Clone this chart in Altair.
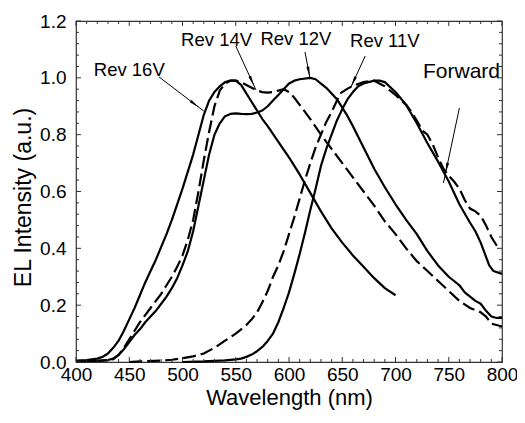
import math
import altair as alt
import pandas as pd

# ---------------- data ----------------
wl_16 = [400, 410, 420, 425, 430, 435, 440, 445, 450, 455, 460, 465, 470, 475, 480, 485, 490, 495,
         500, 505, 510, 515, 520, 525, 530, 535, 540, 545, 550, 555, 560, 565, 570, 575, 580, 590,
         600, 610, 620, 630, 640, 650, 660, 670, 680, 690, 700]
el_16 = [.005, .007, .012, .018, .03, .05, .075, .11, .15, .19, .235, .28, .32, .36, .405, .45, .5, .555,
         .61, .67, .73, .8, .87, .92, .95, .97, .985, .99, .99, .975, .945, .915, .885, .855, .83, .775,
         .72, .66, .595, .53, .47, .42, .375, .335, .295, .26, .235]

wl_14 = [400, 420, 430, 435, 440, 445, 450, 455, 460, 465, 470, 475, 480, 485, 490, 495, 500, 505,
         510, 515, 520, 525, 530, 535, 540, 545, 550, 555, 560, 565, 570, 575, 580, 585, 590, 595,
         600, 605, 610, 615, 620, 630, 640, 650, 660, 670, 680, 690, 700, 710, 720, 730, 740, 750,
         760, 770, 780, 785, 790, 800]
el_14 = [.003, .004, .006, .01, .025, .05, .08, .11, .14, .165, .19, .215, .24, .27, .3, .335, .375, .43,
         .5, .6, .71, .81, .9, .955, .98, .99, .99, .985, .975, .965, .955, .95, .948, .95, .955, .96,
         .95, .93, .905, .88, .855, .8, .75, .7, .65, .6, .55, .495, .45, .4, .355, .32, .285, .25,
         .215, .19, .175, .16, .135, .125]

wl_12 = [400, 420, 430, 435, 440, 445, 450, 455, 460, 465, 470, 475, 480, 485, 490, 495, 500, 505,
         510, 515, 520, 525, 530, 535, 540, 545, 550, 555, 560, 565, 570, 575, 580, 585, 590, 595,
         600, 605, 610, 620, 625, 630, 635, 640, 645, 650, 655, 660, 670, 680, 690, 700, 710, 720,
         730, 740, 750, 755, 760, 765, 770, 775, 780, 785, 790, 795, 800]
el_12 = [.003, .004, .007, .012, .025, .045, .07, .095, .115, .14, .16, .18, .205, .23, .26, .295, .34, .39,
         .46, .55, .64, .73, .8, .84, .865, .873, .875, .873, .872, .873, .878, .885, .9, .92, .94, .96,
         .98, .99, .995, 1.0, .995, .98, .965, .945, .925, .895, .865, .83, .755, .68, .615, .555, .5, .45,
         .39, .34, .3, .285, .27, .245, .23, .215, .205, .18, .16, .155, .155]

wl_11 = [450, 460, 480, 490, 500, 510, 520, 530, 540, 550, 560, 565, 570, 575, 580, 585, 590, 595,
         600, 605, 610, 615, 620, 625, 630, 635, 640, 645, 648, 655, 660, 670, 680, 690, 700, 710,
         715, 720, 725, 730, 735, 740, 745, 750, 755, 760, 765, 770, 775, 780, 785, 790, 795, 797]
el_11 = [.0, .002, .005, .008, .013, .02, .03, .05, .075, .1, .13, .15, .175, .21, .25, .3, .34, .39,
         .45, .51, .575, .64, .7, .755, .8, .845, .88, .92, .945, .962, .972, .985, .99, .97, .94, .905,
         .88, .85, .815, .8, .765, .72, .68, .655, .635, .61, .57, .54, .53, .515, .48, .44, .41, .40]

wl_fw = [500, 520, 540, 550, 555, 560, 565, 570, 575, 580, 585, 590, 595, 600, 605, 610, 615, 620,
         625, 630, 635, 640, 645, 650, 655, 660, 665, 670, 680, 685, 690, 700, 710, 720, 730, 740,
         750, 760, 770, 775, 780, 785, 788, 792, 800]
el_fw = [0.0, .002, .006, .009, .012, .018, .026, .038, .053, .074, .1, .14, .19, .245, .31, .38, .455, .535,
         .61, .69, .75, .8, .85, .89, .925, .95, .97, .98, .99, .99, .985, .95, .905, .84, .77, .705,
         .635, .555, .49, .46, .42, .37, .34, .32, .31]

labels = ["Rev 16V", "Rev 14V", "Rev 12V", "Rev 11V", "Forward"]
label_x = [450, 532, 606.5, 690, 762]
label_y = [1.029, 1.133, 1.138, 1.128, 1.02]
label_size = [18.5, 18.5, 18.5, 18.5, 21]
arrow_x1 = [478, 550, 615, 671.6, 760]
arrow_y1 = [1.003, 1.112, 1.091, 1.077, 0.894]
arrow_x2 = [520, 569, 619.5, 657.7, 745]
arrow_y2 = [0.883, 0.957, 1.003, 0.964, 0.63]

x_major = [400, 450, 500, 550, 600, 650, 700, 750, 800]
x_minor = [v for v in range(400, 801, 10) if v % 50 != 0]
y_major = [0.0, 0.2, 0.4, 0.6, 0.8, 1.0, 1.2]
y_minor = [round(i * 0.04, 2) for i in range(31) if i % 5 != 0]

W, H = 426, 341
FONT = "Liberation Sans"

# ---------------- frames ----------------
rows = []
for name, xs, ys, dashed in [("Rev 16V", wl_16, el_16, 0), ("Rev 14V", wl_14, el_14, 1),
                             ("Rev 12V", wl_12, el_12, 0), ("Rev 11V", wl_11, el_11, 1),
                             ("Forward", wl_fw, el_fw, 0)]:
    for i, (a, b) in enumerate(zip(xs, ys)):
        rows.append({"series": name, "wl": a, "el": b, "dashed": dashed, "i": i})
df = pd.DataFrame(rows)

ann = pd.DataFrame({"label": labels, "x": label_x, "y": label_y, "size": label_size})

xpx = W / 400.0
ypx = H / 1.2
arr_rows = []
for x1, y1, x2, y2 in zip(arrow_x1, arrow_y1, arrow_x2, arrow_y2):
    dx = (x2 - x1) * xpx
    dy = -(y2 - y1) * ypx
    ang = math.degrees(math.atan2(dx, -dy)) % 360
    arr_rows.append({"x1": x1, "y1": y1, "x2": x2, "y2": y2,
                     "hx": x1 + 0.8 * (x2 - x1), "hy": y1 + 0.8 * (y2 - y1), "ang": ang})
arr = pd.DataFrame(arr_rows)

xs_ = alt.Scale(domain=[400, 800], nice=False, zero=False)
ys_ = alt.Scale(domain=[0, 1.2], nice=False, zero=False)

X = alt.X("wl:Q", scale=xs_,
          axis=alt.Axis(values=x_major, format="d", title="Wavelength (nm)", ticks=False,
                        labelFontSize=19, labelPadding=3, titleFontSize=22, titleFontWeight="normal",
                        titlePadding=3, domain=False, grid=False, labelFont=FONT, titleFont=FONT,
                        labelColor="black", titleColor="black", labelFlush=False, labelOverlap=False))
Y = alt.Y("el:Q", scale=ys_,
          axis=alt.Axis(values=y_major, format=".1f", title="EL Intensity (a.u.)", ticks=False,
                        labelFontSize=19, labelPadding=10, titleFontSize=23, titleFontWeight="normal",
                        titlePadding=4, titleY=176, domain=False, grid=False, labelFont=FONT,
                        titleFont=FONT, labelColor="black", titleColor="black", labelFlush=False,
                        labelOverlap=False))

base = alt.Chart(df)
solid = base.transform_filter("datum.dashed == 0").mark_line(
    color="black", strokeWidth=2.2, strokeJoin="round").encode(
    x=X, y=Y, detail="series:N", order="i:Q")
dashed = base.transform_filter("datum.dashed == 1").mark_line(
    color="black", strokeWidth=2.2, strokeDash=[13, 5]).encode(
    x=alt.X("wl:Q", scale=xs_), y=alt.Y("el:Q", scale=ys_), detail="series:N", order="i:Q")

texts = alt.Chart(ann).mark_text(font=FONT, color="black", align="center", baseline="middle").encode(
    x=alt.X("x:Q", scale=xs_), y=alt.Y("y:Q", scale=ys_),
    text="label:N", size=alt.Size("size:Q", scale=None, legend=None))

arrows = alt.Chart(arr).mark_rule(color="black", strokeWidth=1).encode(
    x=alt.X("x1:Q", scale=xs_), y=alt.Y("y1:Q", scale=ys_), x2="x2:Q", y2="y2:Q")
heads = alt.Chart(arr).mark_point(shape="M0,-1L0.28,1L-0.28,1Z", filled=True, color="black",
                                  size=110, opacity=1).encode(
    x=alt.X("hx:Q", scale=xs_), y=alt.Y("hy:Q", scale=ys_), angle=alt.Angle("ang:Q", scale=None))

def xt(vals, y0, y1):
    return alt.Chart(pd.DataFrame({"v": vals})).mark_rule(color="#333", strokeWidth=1).encode(
        x=alt.X("v:Q", scale=xs_), y=alt.value(y0), y2=alt.value(y1))

def yt(vals, x0, x1):
    return alt.Chart(pd.DataFrame({"v": vals})).mark_rule(color="#333", strokeWidth=1).encode(
        y=alt.Y("v:Q", scale=ys_), x=alt.value(x0), x2=alt.value(x1))

ticks = [xt(x_major, H, H - 5), xt(x_minor, H, H - 3), xt(x_major, 0, 5), xt(x_minor, 0, 3),
         yt(y_major, 0, 5), yt(y_minor, 0, 3), yt(y_major, W, W - 5), yt(y_minor, W, W - 3)]

chart = alt.layer(solid, dashed, arrows, heads, texts, *ticks).properties(
    width=W, height=H,
    autosize=alt.AutoSizeParams(type="none"),
    padding={"left": 68, "top": 13, "right": 15, "bottom": 48},
    background="white",
).configure_view(stroke="#333", strokeWidth=1.2)

chart.save("out.html", embed_options={"renderer": "svg", "actions": False})
